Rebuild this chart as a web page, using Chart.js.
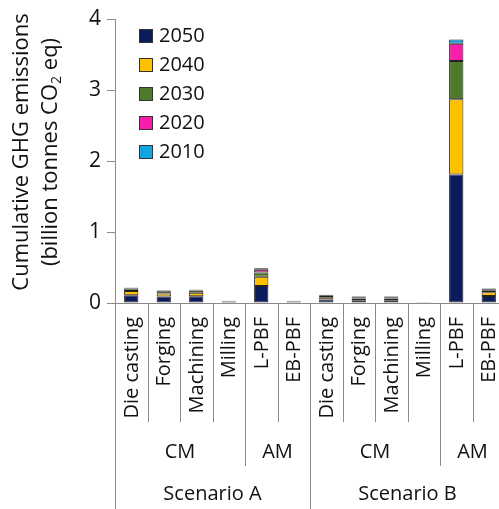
<!DOCTYPE html>
<html>
<head>
<meta charset="utf-8">
<script src="https://cdn.jsdelivr.net/npm/chart.js@4/dist/chart.umd.min.js"></script>
<style>
  html, body { margin: 0; padding: 0; overflow: hidden; background: #fff; }
  #wrap { width: 506px; height: 509px; }
</style>
</head>
<body>
<div id="wrap"><canvas id="c" width="506" height="509"></canvas></div>
<script>
// Production routes, repeated for each scenario
const categories = ['Die casting', 'Forging', 'Machining', 'Milling', 'L-PBF', 'EB-PBF',
                    'Die casting', 'Forging', 'Machining', 'Milling', 'L-PBF', 'EB-PBF'];
const methodGroups = ['CM', 'AM', 'CM', 'AM'];
const methodSpans = [4, 2, 4, 2];
const scenarios = ['Scenario A', 'Scenario B'];
const scenarioSpans = [6, 6];
const years = ['2050', '2040', '2030', '2020', '2010'];
const yTicks = [0, 1, 2, 3, 4];

// Cumulative emissions per decade (billion tonnes CO2 eq)
const v2050 = [0.11, 0.09, 0.095, 0.014, 0.24, 0.014, 0.05, 0.04, 0.04, 0.008, 1.81, 0.10];
const v2040 = [0.06, 0.045, 0.05, 0.007, 0.13, 0.007, 0.03, 0.025, 0.025, 0.003, 1.06, 0.05];
const v2030 = [0.035, 0.03, 0.03, 0.005, 0.06, 0.005, 0.02, 0.015, 0.015, 0.002, 0.54, 0.03];
const v2020 = [0.01, 0.01, 0.01, 0.003, 0.04, 0.003, 0.01, 0.01, 0.01, 0.001, 0.24, 0.015];
const v2010 = [0.005, 0.005, 0.005, 0.001, 0.02, 0.001, 0.005, 0.005, 0.005, 0.001, 0.06, 0.01];

const seriesValues = [v2050, v2040, v2030, v2020, v2010];
const seriesColors = ['#0c1b5c', '#ffc000', '#4f7a2c', '#f71ea9', '#12a3e3'];

const FONT = '"Open Sans", "DejaVu Sans", sans-serif';
const AXIS_GRAY = '#8a8a8a';

const datasets = years.map((y, i) => ({
  label: y,
  data: seriesValues[i],
  backgroundColor: seriesColors[i],
  borderColor: '#222',
  borderWidth: 1,
  borderSkipped: false,
  barPercentage: 0.44,
  categoryPercentage: 1.0
}));

// Draws the multi-level category axis, the legend and the y-axis title
const decorations = {
  id: 'decorations',
  afterDraw(chart) {
    const ctx = chart.ctx;
    const area = chart.chartArea;
    const x = chart.scales.x;
    const n = categories.length;
    const step = (area.right - area.left) / n;
    const edge = i => area.left + i * step;
    const base = area.bottom;

    ctx.save();
    ctx.strokeStyle = AXIS_GRAY;
    ctx.lineWidth = 1;

    // baseline
    ctx.beginPath();
    ctx.moveTo(area.left, base + 0.5);
    ctx.lineTo(area.right, base + 0.5);
    ctx.stroke();

    // separator depths for each boundary level
    const catBottom = 422, grpBottom = 466, scnBottom = 509;
    const scnEdges = new Set([0]);
    let acc = 0;
    scenarioSpans.forEach(s => { acc += s; scnEdges.add(acc); });
    const grpEdges = new Set();
    acc = 0;
    methodSpans.forEach(s => { acc += s; grpEdges.add(acc); });

    for (let i = 0; i <= n; i++) {
      const px = Math.round(edge(i)) + 0.5;
      let bottom = catBottom;
      if (scnEdges.has(i)) bottom = scnBottom;
      else if (grpEdges.has(i)) bottom = grpBottom;
      ctx.beginPath();
      ctx.moveTo(px, i === 0 ? area.top : base);
      ctx.lineTo(px, bottom);
      ctx.stroke();
    }

    // rotated category labels
    ctx.fillStyle = '#111';
    ctx.font = '20px ' + FONT;
    ctx.textAlign = 'right';
    ctx.textBaseline = 'middle';
    categories.forEach((c, i) => {
      const cx = x.getPixelForValue(i) + 1;
      ctx.save();
      ctx.translate(cx, 317);
      ctx.rotate(-Math.PI / 2);
      ctx.fillText(c, 0, 0);
      ctx.restore();
    });

    // method groups
    ctx.textAlign = 'center';
    acc = 0;
    methodGroups.forEach((g, k) => {
      const mid = (edge(acc) + edge(acc + methodSpans[k])) / 2;
      ctx.fillText(g, mid, 452);
      acc += methodSpans[k];
    });

    // scenarios
    acc = 0;
    scenarios.forEach((s, k) => {
      const mid = (edge(acc) + edge(acc + scenarioSpans[k])) / 2;
      ctx.fillText(s, mid, 494);
      acc += scenarioSpans[k];
    });

    // legend
    chart.data.datasets.forEach((ds, i) => {
      const cy = 36 + i * 29;
      ctx.fillStyle = ds.backgroundColor;
      ctx.fillRect(139.5, cy - 6.5, 13, 13);
      ctx.strokeStyle = '#333';
      ctx.strokeRect(139.5, cy - 6.5, 13, 13);
      ctx.fillStyle = '#111';
      ctx.textAlign = 'left';
      ctx.font = '20px ' + FONT;
      ctx.fillText(ds.label, 159, cy);
    });

    // y-axis title (two lines, with subscript)
    ctx.fillStyle = '#111';
    ctx.textBaseline = 'middle';
    ctx.save();
    ctx.translate(22, 152);
    ctx.rotate(-Math.PI / 2);
    ctx.textAlign = 'center';
    ctx.font = '22px ' + FONT;
    ctx.fillText('Cumulative GHG emissions', 0, 0);
    ctx.restore();

    ctx.save();
    ctx.translate(51, 152);
    ctx.rotate(-Math.PI / 2);
    ctx.textAlign = 'left';
    const big = '22px ' + FONT, small = '14px ' + FONT;
    const p1 = '(billion tonnes CO', p2 = '2', p3 = ' eq)';
    ctx.font = big; const w1 = ctx.measureText(p1).width, w3 = ctx.measureText(p3).width;
    ctx.font = small; const w2 = ctx.measureText(p2).width;
    let sx = -(w1 + w2 + w3) / 2;
    ctx.font = big; ctx.fillText(p1, sx, 0); sx += w1;
    ctx.font = small; ctx.fillText(p2, sx, 6); sx += w2;
    ctx.font = big; ctx.fillText(p3, sx, 0);
    ctx.restore();

    ctx.restore();
  }
};

new Chart(document.getElementById('c'), {
  type: 'bar',
  data: { labels: categories, datasets },
  options: {
    responsive: false,
    devicePixelRatio: 1,
    animation: false,
    layout: { padding: { left: 0, top: 19, right: 1, bottom: 206 } },
    plugins: { legend: { display: false }, tooltip: { enabled: false } },
    scales: {
      x: { stacked: true, display: false },
      y: {
        stacked: true,
        min: 0,
        max: 4,
        afterBuildTicks: s => { s.ticks = yTicks.map(v => ({ value: v })); },
        afterFit: s => { s.width = 115; },
        ticks: { color: '#111', font: { family: FONT, size: 21 }, padding: 6 },
        grid: { drawOnChartArea: false, drawTicks: true, tickLength: 8, color: AXIS_GRAY },
        border: { color: AXIS_GRAY }
      }
    }
  },
  plugins: [decorations]
});
</script>
</body>
</html>
